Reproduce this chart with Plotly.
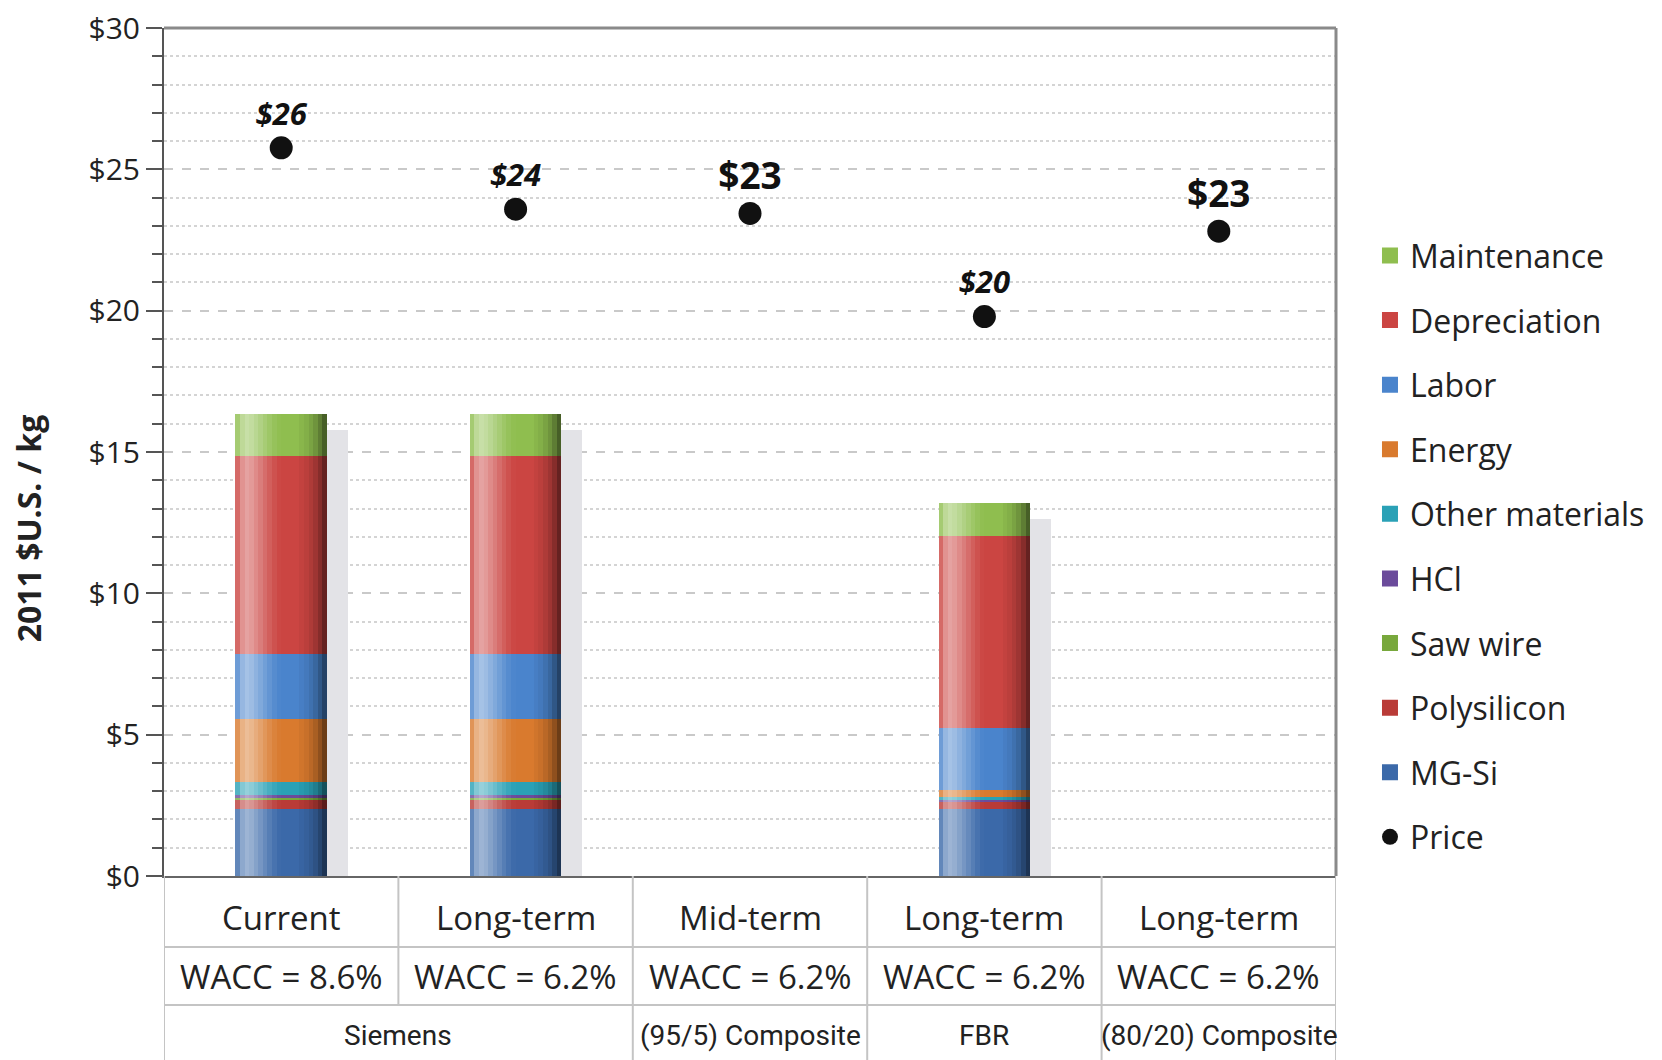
import numpy as np
import plotly.graph_objects as go

# --- data -------------------------------------------------------------------
categories = [
    "Siemens Current",
    "Siemens Long-term",
    "(95/5) Composite Mid-term",
    "FBR Long-term",
    "(80/20) Composite Long-term",
]
mg_si = [2.37, 2.37, 0, 2.37, 0]
polysilicon = [0.35, 0.35, 0, 0.27, 0]
saw_wire = [0.05, 0.05, 0, 0, 0]
hcl = [0.10, 0.10, 0, 0.05, 0]
other_materials = [0.47, 0.47, 0, 0.09, 0]
energy = [2.23, 2.23, 0, 0.26, 0]
labor = [2.30, 2.30, 0, 2.18, 0]
depreciation = [6.98, 6.98, 0, 6.82, 0]
maintenance = [1.48, 1.48, 0, 1.14, 0]
price = [25.76, 23.59, 23.44, 19.79, 22.81]
price_labels = ["$26", "$24", "$23", "$20", "$23"]
price_big = [False, False, True, False, True]

row_scenario = ["Current", "Long-term", "Mid-term", "Long-term", "Long-term"]
row_wacc = ["WACC = 8.6%", "WACC = 6.2%", "WACC = 6.2%", "WACC = 6.2%", "WACC = 6.2%"]
row_tech = ["Siemens", "(95/5) Composite", "FBR", "(80/20) Composite"]
row_tech_span = [(0, 1), (2, 2), (3, 3), (4, 4)]

# bottom-to-top stacking order, with colours
segments = [
    ("MG-Si", mg_si, "#3b69a9"),
    ("Polysilicon", polysilicon, "#b93b37"),
    ("Saw wire", saw_wire, "#78a83c"),
    ("HCl", hcl, "#6b4b9b"),
    ("Other materials", other_materials, "#2aa1b6"),
    ("Energy", energy, "#d97a2e"),
    ("Labor", labor, "#4a84cc"),
    ("Depreciation", depreciation, "#cb4542"),
    ("Maintenance", maintenance, "#8fbe4f"),
]

values = np.array([s[1] for s in segments], dtype=float)
bases = np.vstack([np.zeros(len(categories)), np.cumsum(values, axis=0)[:-1]])
totals = values.sum(axis=0)

BAR_W = 0.39
FONT = "Open Sans, Noto Sans, sans-serif"
TABLE_FONT = "Roboto, Open Sans, sans-serif"

fig = go.Figure()

# drop shadow behind the columns
fig.add_trace(go.Bar(
    x=categories, y=np.where(totals > 0, totals - 0.55, 0),
    width=BAR_W, offset=-BAR_W / 2 + 0.09,
    marker=dict(color="#e3e3e7", line_width=0),
    showlegend=False, hoverinfo="skip",
))

n = len(segments)
for i, (name, vals, color) in enumerate(segments):
    fig.add_trace(go.Bar(
        x=categories, y=vals, base=bases[i], name=name,
        width=BAR_W, offset=-BAR_W / 2,
        marker=dict(color=color, line_width=0),
        showlegend=False,
    ))

# cylinder shading: narrow translucent strips over each column
white = [0.20, 0.42, 0.50, 0.46, 0.38, 0.30, 0.22, 0.14, 0.07, 0.02]
black = {14: 0.04, 15: 0.08, 16: 0.14, 17: 0.22, 18: 0.34, 19: 0.5}
n_strips = 20
sw = BAR_W / n_strips
for k in range(n_strips):
    if k < len(white):
        col = f"rgba(255,255,255,{white[k]})"
    elif k in black:
        col = f"rgba(0,0,0,{black[k]})"
    else:
        continue
    fig.add_trace(go.Bar(
        x=categories, y=totals, width=sw, offset=-BAR_W / 2 + k * sw,
        marker=dict(color=col, line_width=0),
        showlegend=False, hoverinfo="skip",
    ))

# price markers with labels
fig.add_trace(go.Scatter(
    x=categories, y=price, name="Price", mode="markers+text",
    marker=dict(color="#111111", size=23),
    text=[f"<b>{t}</b>" if big else f"<b><i>{t}</i></b>"
          for t, big in zip(price_labels, price_big)],
    textposition="top center",
    textfont=dict(family=FONT, size=[37 if b else 31 for b in price_big], color="#111111"),
    showlegend=False,
))

# legend entries (larger square swatches than bar legend icons)
for i, (name, vals, color) in enumerate(segments):
    fig.add_trace(go.Scatter(
        x=[None], y=[None], mode="markers", name=name,
        marker=dict(symbol="square", size=16, color=color),
        legendgroup=name, legendrank=n - i,
    ))
fig.add_trace(go.Scatter(
    x=[None], y=[None], mode="markers", name="Price",
    marker=dict(symbol="circle", size=16, color="#111111"),
    legendgroup="Price", legendrank=n + 1,
))

# the page body adds 8px around the figure, so the figure is 8px smaller
fig.update_layout(
    width=1654, height=1052,
    margin=dict(l=156, r=321, t=20, b=184),
    barmode="overlay", bargap=0,
    plot_bgcolor="white", paper_bgcolor="white",
    font=dict(family=FONT, size=27, color="#222222"),
    legend=dict(
        x=1.029, y=0.764, xanchor="left", yanchor="top",
        font=dict(family=FONT, size=32, color="#222222"),
        tracegroupgap=20, bgcolor="rgba(0,0,0,0)",
    ),
)

fig.update_xaxes(
    showticklabels=False, ticks="", showgrid=False, automargin=False,
    showline=True, linecolor="#666666", linewidth=2,
    range=[-0.5, len(categories) - 0.5],
)
fig.update_yaxes(
    range=[0, 30], dtick=5, tickprefix="$", automargin=False,
    ticklabeloverflow="allow",
    tickfont=dict(family=FONT, size=30, color="#222222"),
    ticks="outside", ticklen=16, tickwidth=2, tickcolor="#555555",
    showline=True, linecolor="#555555", linewidth=2,
    showgrid=True, gridcolor="#c9c9c9", gridwidth=2, griddash="dash",
    zeroline=False,
    minor=dict(dtick=1, ticks="outside", ticklen=10, tickwidth=2, tickcolor="#555555",
               showgrid=True, gridcolor="#d4d4d4", gridwidth=1.5, griddash="dot"),
)

# y axis title placed like the original (below centre)
fig.add_annotation(
    text="<b>2011 $U.S. / kg</b>", textangle=-90,
    xref="paper", yref="paper", x=-0.116, y=0.41,
    xanchor="center", yanchor="middle",
    showarrow=False, font=dict(family=FONT, size=32, color="#222222"),
)

# top and right frame of the plot
fig.add_shape(type="line", xref="paper", yref="paper", x0=0, x1=1, y0=1, y1=1,
              line=dict(color="#8a8a8a", width=3))
fig.add_shape(type="line", xref="paper", yref="paper", x0=1, x1=1, y0=0, y1=1,
              line=dict(color="#8a8a8a", width=3))

# --- table below the plot ----------------------------------------------------
plot_h = 1052 - 20 - 184


def py(pix):
    # pixel offset below the plot bottom -> paper y
    return -pix / plot_h


grid = dict(color="#c4c4c4", width=2)
left, right = -0.5, len(categories) - 0.5
for off in (71, 129):
    fig.add_shape(type="line", xref="x", yref="paper", x0=left, x1=right,
                  y0=py(off), y1=py(off), line=grid)
for xb in np.arange(left, right + 1):
    bottom = 129 if xb == 0.5 else 190
    fig.add_shape(type="line", xref="x", yref="paper", x0=xb, x1=xb,
                  y0=0, y1=py(bottom), line=grid)

for i, (a, b) in enumerate(zip(row_scenario, row_wacc)):
    fig.add_annotation(text=a, x=i, y=py(41), xref="x", yref="paper", showarrow=False,
                       xanchor="center", yanchor="middle",
                       font=dict(family=FONT, size=33, color="#222222"))
    fig.add_annotation(text=b, x=i, y=py(100), xref="x", yref="paper", showarrow=False,
                       xanchor="center", yanchor="middle",
                       font=dict(family=FONT, size=33, color="#222222"))
for t, (a, b) in zip(row_tech, row_tech_span):
    fig.add_annotation(text=t, x=(a + b) / 2, y=py(159), xref="x", yref="paper",
                       showarrow=False, xanchor="center", yanchor="middle",
                       font=dict(family=TABLE_FONT, size=28, color="#222222"))

fig.write_html("out.html")
